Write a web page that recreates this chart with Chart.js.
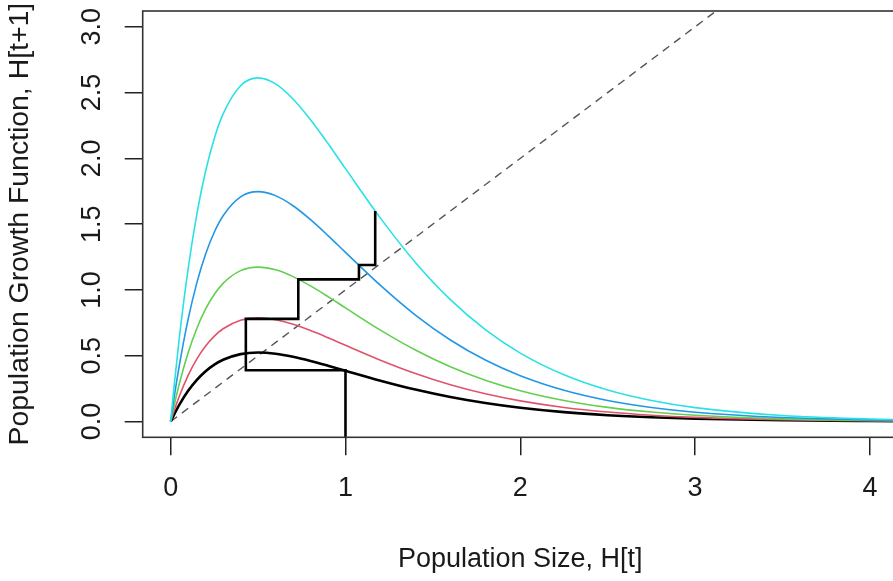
<!DOCTYPE html>
<html>
<head>
<meta charset="utf-8">
<script src="https://cdn.jsdelivr.net/npm/chart.js@4"></script>
<style>
  html, body { margin: 0; padding: 0; background: #fff; overflow: hidden; }
  #wrap { width: 900px; height: 581px; }
</style>
</head>
<body>
<div id="wrap"><canvas id="c" width="900" height="581"></canvas></div>
<script>
// Population size H[t] sample points
const hValues = [0, 0.02, 0.05, 0.1, 0.15, 0.2, 0.25, 0.3, 0.4, 0.5, 0.6, 0.7, 0.8, 0.9, 1.0, 1.2, 1.4, 1.6, 1.8, 2.0, 2.25, 2.5, 2.75, 3.0, 3.5, 4.0, 4.2];

// Growth function curves H[t+1]
const curveBlack = [0, 0.0548, 0.1289, 0.2333, 0.3167, 0.3821, 0.4322, 0.4692, 0.5122, 0.5242, 0.5150, 0.4920, 0.4603, 0.4240, 0.3857, 0.3103, 0.2426, 0.1859, 0.1402, 0.1044, 0.0712, 0.0480, 0.0320, 0.0212, 0.0091, 0.0038, 0.0027];
const curveRed   = [0, 0.0822, 0.1936, 0.3504, 0.4756, 0.5738, 0.6490, 0.7047, 0.7693, 0.7873, 0.7735, 0.7388, 0.6913, 0.6367, 0.5792, 0.4659, 0.3644, 0.2791, 0.2105, 0.1568, 0.1070, 0.0721, 0.0481, 0.0318, 0.0137, 0.0057, 0.0040];
const curveGreen = [0, 0.1226, 0.2886, 0.5224, 0.7090, 0.8553, 0.9674, 1.0504, 1.1467, 1.1735, 1.1530, 1.1013, 1.0305, 0.9492, 0.8634, 0.6945, 0.5432, 0.4161, 0.3138, 0.2337, 0.1595, 0.1075, 0.0717, 0.0474, 0.0204, 0.0086, 0.0060];
const curveBlue  = [0, 0.1826, 0.4298, 0.7778, 1.0557, 1.2736, 1.4405, 1.5641, 1.7075, 1.7474, 1.7168, 1.6399, 1.5344, 1.4133, 1.2857, 1.0342, 0.8088, 0.6196, 0.4672, 0.3480, 0.2375, 0.1600, 0.1068, 0.0706, 0.0303, 0.0127, 0.0090];
const curveCyan  = [0, 0.2729, 0.6424, 1.1626, 1.5779, 1.9037, 2.1532, 2.3379, 2.5522, 2.6119, 2.5662, 2.4512, 2.2935, 2.1125, 1.9218, 1.5458, 1.2089, 0.9261, 0.6984, 0.5202, 0.3549, 0.2392, 0.1596, 0.1056, 0.0453, 0.0191, 0.0134];

// Cobweb path
const cobwebX = [1.0, 1.0, 0.43, 0.43, 0.73, 0.73, 1.077, 1.077, 1.17, 1.17];
const cobwebY = [-0.12, 0.39, 0.39, 0.78, 0.78, 1.08, 1.08, 1.19, 1.19, 1.60];

// 1:1 reference line
const diagX = [0, 3.2];
const diagY = [0, 3.2];

// Axis ticks
const xTicks = [0, 1, 2, 3, 4];
const xTickLabels = ['0', '1', '2', '3', '4'];
const yTicks = [0, 0.5, 1.0, 1.5, 2.0, 2.5, 3.0];
const yTickLabels = ['0.0', '0.5', '1.0', '1.5', '2.0', '2.5', '3.0'];

const xTitle = 'Population Size, H[t]';
const yTitle = 'Population Growth Function, H[t+1]';

const pts = (xs, ys) => xs.map((x, i) => ({ x: x, y: ys[i] }));

const FONT = 'Liberation Sans, Arial, Helvetica, sans-serif';
const FS = 27;
const TEXT = '#1a1a1a';

const boxPlugin = {
  id: 'box',
  afterDatasetsDraw(chart) {
    const a = chart.chartArea, ctx = chart.ctx;
    ctx.save();
    ctx.strokeStyle = '#333';
    ctx.lineWidth = 1.6;
    ctx.strokeRect(a.left, a.top, a.right - a.left, a.bottom - a.top);
    ctx.restore();
  }
};

const curveDs = (data, color, width, order) => ({
  data: pts(hValues, data),
  borderColor: color,
  borderWidth: width,
  showLine: true,
  pointRadius: 0,
  fill: false,
  cubicInterpolationMode: 'monotone',
  order: order
});

const noPad = s => { s.paddingTop = 0; s.paddingBottom = 0; s.paddingLeft = 0; s.paddingRight = 0; };

new Chart(document.getElementById('c'), {
  type: 'scatter',
  data: {
    datasets: [
      {
        data: pts(cobwebX, cobwebY),
        borderColor: '#000', borderWidth: 2.6, showLine: true, pointRadius: 0,
        borderJoinStyle: 'miter', borderCapStyle: 'butt', tension: 0, order: 0
      },
      curveDs(curveCyan, '#28E2E5', 1.6, 1),
      curveDs(curveBlue, '#2297E6', 1.6, 2),
      curveDs(curveGreen, '#61D04F', 1.6, 3),
      curveDs(curveRed, '#DF536B', 1.6, 4),
      curveDs(curveBlack, '#000000', 2.6, 5),
      {
        data: pts(diagX, diagY),
        borderColor: '#555', borderWidth: 1.4, borderDash: [8, 6],
        showLine: true, pointRadius: 0, tension: 0, order: 6
      }
    ]
  },
  options: {
    responsive: false,
    devicePixelRatio: 1,
    animation: false,
    events: [],
    layout: { padding: { top: 11, right: 2.1, left: 0, bottom: 0 } },
    plugins: { legend: { display: false }, tooltip: { enabled: false } },
    scales: {
      x: {
        type: 'linear',
        min: -0.16, max: 4.16,
        afterBuildTicks: s => { s.ticks = xTicks.map(v => ({ value: v })); },
        afterFit: s => { s.height = 143.7; noPad(s); },
        grid: { drawOnChartArea: false, drawTicks: true, tickLength: 18, color: '#222', lineWidth: 1.5 },
        border: { display: false },
        ticks: {
          callback: (v) => xTickLabels[xTicks.indexOf(v)],
          font: { family: FONT, size: FS }, color: TEXT,
          padding: 17, maxRotation: 0, minRotation: 0, autoSkip: false
        },
        title: {
          display: true, text: xTitle,
          font: { family: FONT, size: FS }, color: TEXT,
          padding: { top: 0, bottom: 5 }
        }
      },
      y: {
        type: 'linear',
        min: -0.12, max: 3.12,
        afterBuildTicks: s => { s.ticks = yTicks.map(v => ({ value: v })); },
        afterFit: s => { s.width = 142.7; noPad(s); },
        grid: { drawOnChartArea: false, drawTicks: true, tickLength: 18, color: '#222', lineWidth: 1.5 },
        border: { display: false },
        ticks: {
          callback: (v) => yTickLabels[yTicks.indexOf(v)],
          font: { family: FONT, size: FS }, color: TEXT,
          padding: 13, minRotation: 90, maxRotation: 90, crossAlign: 'center', autoSkip: false
        },
        title: {
          display: true, text: yTitle,
          font: { family: FONT, size: 28.4 }, color: TEXT,
          padding: { top: 3, bottom: 0 }
        }
      }
    }
  },
  plugins: [boxPlugin]
});
</script>
</body>
</html>
